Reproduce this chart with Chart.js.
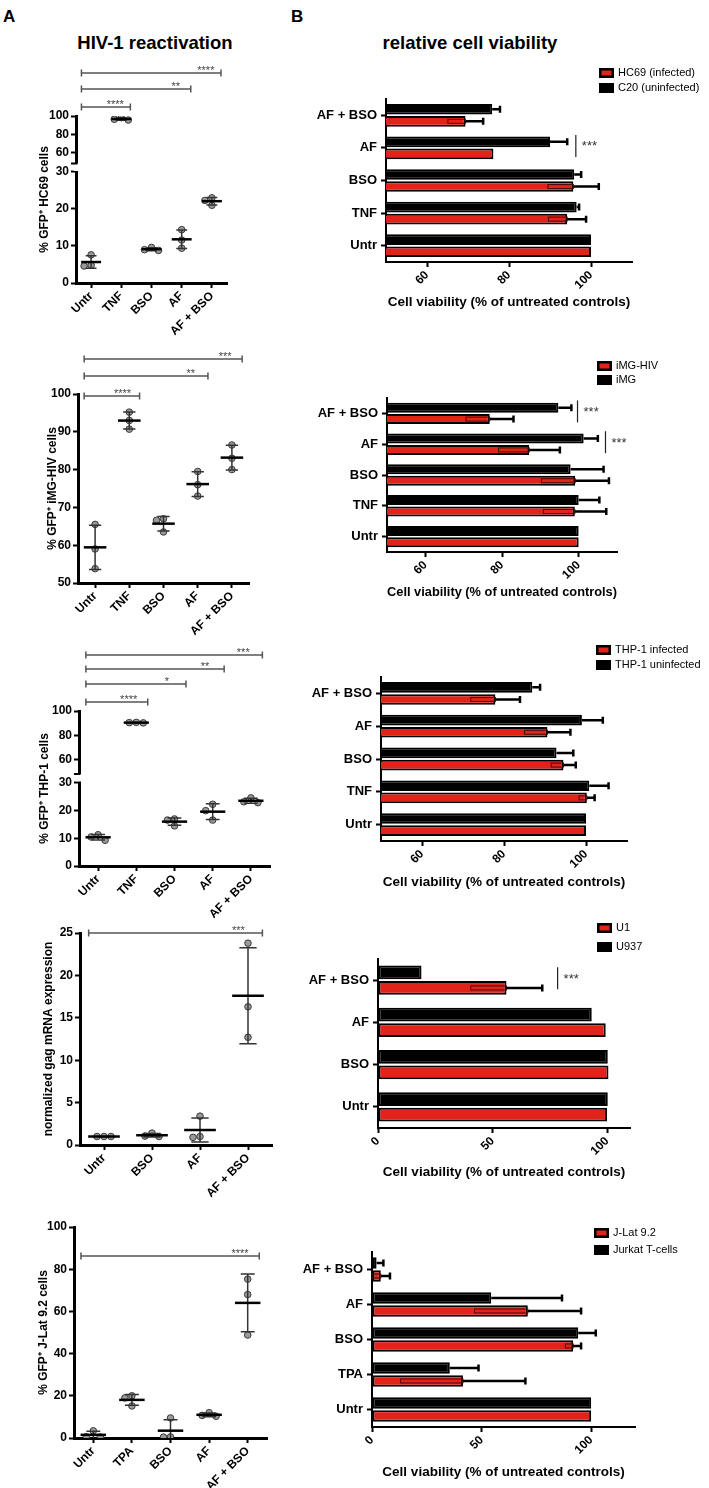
<!DOCTYPE html>
<html>
<head>
<meta charset="utf-8">
<title>HIV-1 reactivation and relative cell viability</title>
<script src="https://cdn.jsdelivr.net/npm/chart.js@4.4.1/dist/chart.umd.min.js"></script>
<style>
  html, body { margin: 0; padding: 0; background: #fff; }
  body { position: relative; width: 709px; height: 1488px; overflow: hidden; font-family: "Liberation Sans", Arial, Helvetica, sans-serif; }
  canvas { position: absolute; }
  .head { position: absolute; font-weight: bold; line-height: 1; white-space: nowrap; }
</style>
</head>
<body>
<div class="head" style="left:3px; top:8px; font-size:17px;">A</div>
<div class="head" style="left:291px; top:8px; font-size:17px;">B</div>
<div class="head" style="left:55px; width:200px; text-align:center; top:34px; font-size:18.5px;">HIV-1 reactivation</div>
<div class="head" style="left:370px; width:200px; text-align:center; top:34px; font-size:18.5px;">relative cell viability</div>
<script>
Chart.defaults.font.family = '"Liberation Sans", Arial, Helvetica, sans-serif';
Chart.defaults.color = "#000";

const RED = "#e2231a";
const BOLD12 = { size: 12, weight: "bold" };

// ============ A: HIV-1 reactivation (three replicates per group) ============
// HC69
const hc69Groups = ["Untr", "TNF", "BSO", "AF", "AF + BSO"];
const hc69Gfp = [[7.6, 4.8, 4.6], [98.2, 96.5, 95.6], [9.6, 9.0, 8.8], [14.4, 11.6, 9.4], [23.0, 22.3, 21.0]];
const hc69Stars = [["TNF", "****"], ["AF", "**"], ["AF + BSO", "****"]];
const hc69TicksHigh = [60, 80, 100];
const hc69TicksLow = [0, 10, 20, 30];

// iMG-HIV
const imgGroups = ["Untr", "TNF", "BSO", "AF", "AF + BSO"];
const imgGfp = [[65.5, 59.0, 53.8], [95.2, 93.0, 90.7], [67.0, 66.6, 63.5], [79.5, 76.0, 73.0], [86.5, 83.0, 80.0]];
const imgStars = [["TNF", "****"], ["AF", "**"], ["AF + BSO", "***"]];
const imgTicks = [50, 60, 70, 80, 90, 100];

// THP-1
const thpGroups = ["Untr", "TNF", "BSO", "AF", "AF + BSO"];
const thpGfp = [[11.3, 10.5, 9.3], [90.7, 90.5, 90.3], [17.0, 16.6, 14.5], [22.3, 20.0, 16.6], [24.6, 23.2, 22.9]];
const thpStars = [["TNF", "****"], ["BSO", "*"], ["AF", "**"], ["AF + BSO", "***"]];
const thpTicksHigh = [60, 80, 100];
const thpTicksLow = [0, 10, 20, 30];

// U1 gag mRNA
const u1Groups = ["Untr", "BSO", "AF", "AF + BSO"];
const u1Gag = [[1.0, 1.0, 1.0], [1.4, 1.05, 1.0], [3.4, 1.0, 0.9], [23.8, 16.3, 12.7]];
const u1Stars = [["AF + BSO", "***"]];
const u1Ticks = [0, 5, 10, 15, 20, 25];

// J-Lat 9.2
const jlatGroups = ["Untr", "TPA", "BSO", "AF", "AF + BSO"];
const jlatGfp = [[3.4, 0.6, 0.5], [20.0, 19.0, 15.2], [9.5, 0.5, 0.4], [12.0, 10.7, 10.3], [75.3, 68.0, 48.8]];
const jlatStars = [["AF + BSO", "****"]];
const jlatTicks = [0, 20, 40, 60, 80, 100];

// ============ B: relative cell viability (mean, SD) ============
const hc69ViaGroups = ["AF + BSO", "AF", "BSO", "TNF", "Untr"];
const hc69Infected = [69.4, 76.2, 95.7, 94.2, 100];
const hc69InfectedSd = [4.3, 0, 6.2, 4.6, 0];
const c20Uninfected = [75.9, 90.0, 95.9, 96.5, 100];
const c20UninfectedSd = [1.9, 4.2, 1.7, 0.6, 0];
const hc69ViaSig = [["AF", 96.3, "***"]];
const hc69ViaTicks = [60, 80, 100];

const imgViaGroups = ["AF + BSO", "AF", "BSO", "TNF", "Untr"];
const imgHivViability = [76.8, 87.1, 99.1, 99.0, 100];
const imgHivViabilitySd = [6.2, 8.0, 8.8, 8.2, 0];
const imgViability = [94.7, 101.3, 97.9, 100.0, 100];
const imgViabilitySd = [3.4, 3.7, 8.6, 5.4, 0];
const imgViaSig = [["AF + BSO", 99.7, "***"], ["AF", 107, "***"]];
const imgViaTicks = [60, 80, 100];

const thpViaGroups = ["AF + BSO", "AF", "BSO", "TNF", "Untr"];
const thpInfected = [77.9, 90.6, 94.5, 100.2, 100];
const thpInfectedSd = [6.0, 5.6, 3.0, 1.9, 0];
const thpUninfected = [86.9, 99.0, 92.8, 100.8, 100];
const thpUninfectedSd = [1.9, 5.1, 4.1, 4.7, 0];
const thpViaTicks = [60, 80, 100];

const u1ViaGroups = ["AF + BSO", "AF", "BSO", "Untr"];
const u1Viability = [56.1, 99.4, 100.6, 100.0];
const u1ViabilitySd = [15.6, 0, 0, 0];
const u937Viability = [19.0, 93.3, 100.3, 100.3];
const u937ViabilitySd = [0, 0, 0, 0];
const u1ViaSig = [["AF + BSO", 78.4, "***"]];
const u1ViaTicks = [0, 50, 100];

const jlatViaGroups = ["AF + BSO", "AF", "BSO", "TPA", "Untr"];
const jlatViability = [4.0, 71.1, 91.8, 41.5, 100];
const jlatViabilitySd = [4.2, 24.3, 3.6, 28.5, 0];
const jurkatViability = [2.1, 54.4, 94.1, 35.5, 100];
const jurkatViabilitySd = [3.1, 32.3, 8.0, 13.1, 0];
const jlatViaTicks = [0, 50, 100];

// ---------------------------------------------------------------------------

function addCanvas(box) {
  const canvas = document.createElement("canvas");
  canvas.width = box.width;
  canvas.height = box.height;
  canvas.style.left = box.left + "px";
  canvas.style.top = box.top + "px";
  document.body.appendChild(canvas);
  return canvas;
}

function meanSd(vals) {
  const m = vals.reduce((a, b) => a + b, 0) / vals.length;
  const v = vals.reduce((a, b) => a + (b - m) * (b - m), 0) / (vals.length - 1);
  return [m, Math.sqrt(v)];
}

const tickGrid = { drawOnChartArea: false, tickLength: 5, tickWidth: 2, tickColor: "#000" };

// ========================================= //
// Dot plot with mean +/- SD (column A)      //
// ========================================= //
function makeDotPanel(p) {
  const canvas = addCanvas(p.box);
  const area = p.area;
  const n = p.groups.length;
  const catPx = (area.r - area.l) / n;
  const plotH = area.b - area.t;

  // one segment for a plain axis, two for a broken one (upper first)
  const segs = p.broken
    ? [{ id: "yHigh", ...p.broken.high }, { id: "yLow", ...p.broken.low }]
    : [{ id: "y", ...p.axis, weight: 1 }];
  const wSum = segs.reduce((a, s) => a + s.weight, 0);
  segs.forEach((s) => {
    s.perUnit = (plotH * s.weight) / wSum / (s.max - s.min);
  });
  const segFor = (v) => (segs.length === 1 || v >= p.broken.split ? segs[0] : segs[1]);

  // points side by side when they would overlap
  const points = segs.map(() => []);
  p.values.forEach((vals, i) => {
    const placed = [];
    vals.forEach((v) => {
      const s = segFor(v);
      const dx =
        [0, -7, 7, -14, 14].find(
          (c) => !placed.some((q) => q.s === s && Math.hypot(q.dx - c, (q.v - v) * s.perUnit) < 6.6)
        ) ?? 0;
      placed.push({ s, dx, v });
      points[segs.indexOf(s)].push({ x: i + dx / catPx, y: v });
    });
  });

  const scales = {
    x: {
      type: "linear",
      min: -0.5,
      max: n - 0.5,
      afterBuildTicks: (sc) => {
        sc.ticks = p.groups.map((g, i) => ({ value: i }));
      },
      afterFit: (sc) => {
        sc.height = p.box.top + p.box.height - area.b;
      },
      ticks: {
        autoSkip: false,
        minRotation: 45,
        maxRotation: 45,
        font: BOLD12,
        padding: 1,
        callback: (v, i) => p.groups[i],
      },
      grid: tickGrid,
      border: { color: "#000", width: 3 },
    },
  };
  segs.forEach((s, k) => {
    scales[s.id] = {
      type: "linear",
      position: "left",
      min: s.min,
      max: s.max,
      afterBuildTicks: (sc) => {
        sc.ticks = s.ticks.map((v) => ({ value: v }));
      },
      afterFit: (sc) => {
        sc.width = area.l - p.box.left;
      },
      ticks: { font: BOLD12, padding: 2 },
      grid: tickGrid,
      border: { color: "#000", width: 3 },
    };
    if (p.broken) {
      Object.assign(scales[s.id], { stack: "gfp", stackWeight: s.weight, weight: segs.length - k });
    }
  });

  const deco = {
    id: "dotDeco",
    afterDatasetsDraw(chart) {
      const { ctx, chartArea } = chart;
      const xs = chart.scales.x;
      ctx.save();
      p.values.forEach((vals, i) => {
        const [m, sd] = meanSd(vals);
        const ys = chart.scales[segFor(m).id];
        const x = xs.getPixelForValue(i);
        const yHi = ys.getPixelForValue(m + sd);
        const yLoRaw = ys.getPixelForValue(m - sd);
        const yLo = Math.min(yLoRaw, chartArea.bottom);
        const cap = 0.18 * catPx;
        ctx.strokeStyle = "#333";
        ctx.lineWidth = 1.5;
        ctx.beginPath();
        ctx.moveTo(x, yHi);
        ctx.lineTo(x, yLo);
        ctx.moveTo(x - cap, yHi);
        ctx.lineTo(x + cap, yHi);
        if (yLoRaw <= chartArea.bottom) {
          ctx.moveTo(x - cap, yLo);
          ctx.lineTo(x + cap, yLo);
        }
        ctx.stroke();
        const yM = ys.getPixelForValue(m);
        ctx.strokeStyle = "#000";
        ctx.lineWidth = 2.5;
        ctx.beginPath();
        ctx.moveTo(x - 0.33 * catPx, yM);
        ctx.lineTo(x + 0.33 * catPx, yM);
        ctx.stroke();
      });
      ctx.restore();
    },
    afterDraw(chart) {
      const { ctx, chartArea } = chart;
      const xs = chart.scales.x;
      ctx.save();
      // comparisons against untreated
      p.stars.forEach(([target, label], k) => {
        const y = chartArea.top + p.bracketY[k];
        const x0 = xs.getPixelForValue(-0.32);
        const x1 = xs.getPixelForValue(p.groups.indexOf(target) + 0.3);
        ctx.strokeStyle = "#555";
        ctx.lineWidth = 1.5;
        ctx.beginPath();
        ctx.moveTo(x0, y);
        ctx.lineTo(x1, y);
        ctx.moveTo(x0, y - 3.5);
        ctx.lineTo(x0, y + 3.5);
        ctx.moveTo(x1, y - 3.5);
        ctx.lineTo(x1, y + 3.5);
        ctx.stroke();
        ctx.fillStyle = "#444";
        ctx.font = '11px "Liberation Sans", Arial, sans-serif';
        ctx.textAlign = "center";
        ctx.textBaseline = "alphabetic";
        ctx.fillText(label, x1 - 0.5 * catPx, y + 1);
      });
      // gap in a broken axis (only the axis line is cut)
      if (p.broken) {
        const j = chart.scales.yHigh.bottom;
        ctx.fillStyle = "#fff";
        ctx.fillRect(chartArea.left - 2.5, j - 4, 5, 7.5);
        ctx.strokeStyle = "#000";
        ctx.lineWidth = 2;
        ctx.beginPath();
        ctx.moveTo(chartArea.left - 5, j - 4);
        ctx.lineTo(chartArea.left + 1.5, j - 4);
        ctx.stroke();
      }
      // y axis title
      ctx.translate(p.titleX - p.box.left, (chartArea.top + chartArea.bottom) / 2);
      ctx.rotate(-Math.PI / 2);
      ctx.fillStyle = "#000";
      ctx.font = 'bold 12px "Liberation Sans", Arial, sans-serif';
      ctx.textAlign = "center";
      ctx.textBaseline = "middle";
      ctx.fillText(p.yTitle, 0, 0);
      ctx.restore();
    },
  };

  new Chart(canvas, {
    type: "scatter",
    data: {
      datasets: segs.map((s, k) => ({
        data: points[k],
        yAxisID: s.id,
        pointRadius: 3.3,
        pointBackgroundColor: "#9a9a9a",
        pointBorderColor: "#3a3a3a",
        pointBorderWidth: 1,
      })),
    },
    options: {
      responsive: false,
      maintainAspectRatio: false,
      animation: false,
      events: [],
      layout: {
        padding: { left: 0, top: area.t - p.box.top, right: p.box.left + p.box.width - area.r, bottom: 0 },
      },
      plugins: { legend: { display: false }, tooltip: { enabled: false } },
      scales,
    },
    plugins: [deco],
  });
}

// ========================================= //
// Horizontal viability bars (column B)      //
// ========================================= //
function makeViabilityPanel(p) {
  const canvas = addCanvas(p.box);
  const area = p.area;

  const extras = {
    id: "viabilityExtras",
    afterDatasetsDraw(chart) {
      const { ctx, chartArea } = chart;
      const xs = chart.scales.x;
      ctx.save();
      chart.data.datasets.forEach((ds, di) => {
        chart.getDatasetMeta(di).data.forEach((bar, i) => {
          const sd = ds.sd[i];
          if (!sd) return;
          const y = bar.y;
          const xEnd = xs.getPixelForValue(ds.data[i]);
          const xHi = xs.getPixelForValue(ds.data[i] + sd);
          const xLo = Math.max(xs.getPixelForValue(ds.data[i] - sd), chartArea.left);
          if (ds.innerError) {
            ctx.strokeStyle = "#4a0a06";
            ctx.lineWidth = 1;
            ctx.strokeRect(xLo, y - 2, xEnd - xLo, 4);
          }
          ctx.strokeStyle = "#000";
          ctx.lineWidth = 2.5;
          ctx.beginPath();
          ctx.moveTo(xEnd, y);
          ctx.lineTo(xHi, y);
          ctx.moveTo(xHi, y - 3.5);
          ctx.lineTo(xHi, y + 3.5);
          ctx.stroke();
        });
      });
      ctx.restore();
    },
    afterDraw(chart) {
      const { ctx } = chart;
      const xs = chart.scales.x;
      const ys = chart.scales.y;
      ctx.save();
      // legend, infected first
      const lx = p.legend.x - p.box.left;
      [1, 0].forEach((di, row) => {
        const ds = chart.data.datasets[di];
        const ly = p.legend.y[row] - p.box.top;
        ctx.fillStyle = "#000";
        ctx.fillRect(lx, ly - 5, 15, 10);
        ctx.fillStyle = ds.backgroundColor;
        ctx.fillRect(lx + 2.5, ly - 2.5, 10, 5);
        ctx.fillStyle = "#000";
        ctx.font = '11px "Liberation Sans", Arial, sans-serif';
        ctx.textAlign = "left";
        ctx.textBaseline = "middle";
        ctx.fillText(ds.label, lx + 19, ly);
      });
      // infected vs uninfected
      (p.sig || []).forEach(([group, at, label]) => {
        const x = xs.getPixelForValue(at);
        const y = ys.getPixelForValue(p.groups.indexOf(group));
        ctx.strokeStyle = "#222";
        ctx.lineWidth = 1.2;
        ctx.beginPath();
        ctx.moveTo(x, y - 13);
        ctx.lineTo(x, y + 9);
        ctx.stroke();
        ctx.fillStyle = "#333";
        ctx.font = '13px "Liberation Sans", Arial, sans-serif';
        ctx.textAlign = "left";
        ctx.textBaseline = "middle";
        ctx.fillText(label, x + 6, y - 1);
      });
      ctx.restore();
    },
  };

  new Chart(canvas, {
    type: "bar",
    data: {
      labels: p.groups,
      datasets: [
        { label: p.names[1], data: p.uninfected, sd: p.uninfectedSd, backgroundColor: "#000" },
        { label: p.names[0], data: p.infected, sd: p.infectedSd, backgroundColor: RED, innerError: true },
      ],
    },
    options: {
      indexAxis: "y",
      responsive: false,
      maintainAspectRatio: false,
      animation: false,
      events: [],
      layout: {
        padding: { left: 0, top: area.t - p.box.top, right: p.box.left + p.box.width - area.r, bottom: 0 },
      },
      datasets: {
        bar: {
          borderColor: "#000",
          borderWidth: 2,
          borderSkipped: false,
          categoryPercentage: 0.74,
          barPercentage: 0.88,
        },
      },
      plugins: { legend: { display: false }, tooltip: { enabled: false } },
      scales: {
        x: {
          type: "linear",
          min: p.min,
          max: p.max,
          afterBuildTicks: (sc) => {
            sc.ticks = p.ticks.map((v) => ({ value: v }));
          },
          afterFit: (sc) => {
            sc.height = p.box.top + p.box.height - area.b;
          },
          ticks: { minRotation: 45, maxRotation: 45, font: BOLD12, padding: 1 },
          grid: tickGrid,
          border: { color: "#000", width: 2 },
          title: {
            display: true,
            text: "Cell viability (% of untreated controls)",
            font: { size: 13.5, weight: "bold" },
            padding: { top: 0, bottom: 2 },
          },
        },
        y: {
          type: "category",
          afterFit: (sc) => {
            sc.width = area.l - p.box.left;
          },
          ticks: { font: { size: 13, weight: "bold" }, padding: 4 },
          grid: { ...tickGrid, offset: false },
          border: { color: "#000", width: 2 },
        },
      },
    },
    plugins: [extras],
  });
}

// ---------------- column A ----------------
makeDotPanel({
  box: { left: 0, top: 55, width: 280, height: 290 },
  area: { l: 76, t: 116, r: 227, b: 283 },
  groups: hc69Groups,
  values: hc69Gfp,
  stars: hc69Stars,
  bracketY: [-9, -27, -43],
  broken: {
    split: 40,
    high: { min: 44.3, max: 100, ticks: hc69TicksHigh, weight: 51.5 },
    low: { min: 0, max: 31.2, ticks: hc69TicksLow, weight: 115.5 },
  },
  yTitle: "% GFP⁺ HC69 cells",
  titleX: 45,
});

makeDotPanel({
  box: { left: 0, top: 340, width: 280, height: 300 },
  area: { l: 78, t: 394, r: 249, b: 583 },
  groups: imgGroups,
  values: imgGfp,
  stars: imgStars,
  bracketY: [2, -18, -35],
  axis: { min: 50, max: 100, ticks: imgTicks },
  yTitle: "% GFP⁺ iMG-HIV cells",
  titleX: 53,
});

makeDotPanel({
  box: { left: 0, top: 640, width: 280, height: 290 },
  area: { l: 79, t: 711, r: 270, b: 866 },
  groups: thpGroups,
  values: thpGfp,
  stars: thpStars,
  bracketY: [-9, -27, -42, -56],
  broken: {
    split: 40,
    high: { min: 45.3, max: 100, ticks: thpTicksHigh, weight: 67 },
    low: { min: 0, max: 31.8, ticks: thpTicksLow, weight: 88 },
  },
  yTitle: "% GFP⁺ THP-1 cells",
  titleX: 45,
});

makeDotPanel({
  box: { left: 0, top: 915, width: 280, height: 300 },
  area: { l: 80, t: 933, r: 272, b: 1145 },
  groups: u1Groups,
  values: u1Gag,
  stars: u1Stars,
  bracketY: [0],
  axis: { min: 0, max: 25, ticks: u1Ticks },
  yTitle: "normalized gag mRNA expression",
  titleX: 49,
});

makeDotPanel({
  box: { left: 0, top: 1215, width: 280, height: 273 },
  area: { l: 74, t: 1227, r: 267, b: 1438 },
  groups: jlatGroups,
  values: jlatGfp,
  stars: jlatStars,
  bracketY: [29],
  axis: { min: 0, max: 100, ticks: jlatTicks },
  yTitle: "% GFP⁺ J-Lat 9.2 cells",
  titleX: 44,
});

// ---------------- column B ----------------
makeViabilityPanel({
  box: { left: 280, top: 55, width: 429, height: 257 },
  area: { l: 386, t: 99, r: 632, b: 262 },
  groups: hc69ViaGroups,
  names: ["HC69 (infected)", "C20 (uninfected)"],
  infected: hc69Infected,
  infectedSd: hc69InfectedSd,
  uninfected: c20Uninfected,
  uninfectedSd: c20UninfectedSd,
  sig: hc69ViaSig,
  min: 50,
  max: 110,
  ticks: hc69ViaTicks,
  legend: { x: 599, y: [73, 88] },
});

makeViabilityPanel({
  box: { left: 280, top: 345, width: 429, height: 257 },
  area: { l: 387, t: 398, r: 617, b: 552 },
  groups: imgViaGroups,
  names: ["iMG-HIV", "iMG"],
  infected: imgHivViability,
  infectedSd: imgHivViabilitySd,
  uninfected: imgViability,
  uninfectedSd: imgViabilitySd,
  sig: imgViaSig,
  min: 50,
  max: 110,
  ticks: imgViaTicks,
  legend: { x: 597, y: [366, 380] },
});

makeViabilityPanel({
  box: { left: 280, top: 630, width: 429, height: 262 },
  area: { l: 381, t: 677, r: 627, b: 841 },
  groups: thpViaGroups,
  names: ["THP-1 infected", "THP-1 uninfected"],
  infected: thpInfected,
  infectedSd: thpInfectedSd,
  uninfected: thpUninfected,
  uninfectedSd: thpUninfectedSd,
  min: 50,
  max: 110,
  ticks: thpViaTicks,
  legend: { x: 596, y: [650, 665] },
});

makeViabilityPanel({
  box: { left: 280, top: 905, width: 429, height: 277 },
  area: { l: 378, t: 959, r: 630, b: 1128 },
  groups: u1ViaGroups,
  names: ["U1", "U937"],
  infected: u1Viability,
  infectedSd: u1ViabilitySd,
  uninfected: u937Viability,
  uninfectedSd: u937ViabilitySd,
  sig: u1ViaSig,
  min: 0,
  max: 110,
  ticks: u1ViaTicks,
  legend: { x: 597, y: [928, 947] },
});

makeViabilityPanel({
  box: { left: 280, top: 1200, width: 429, height: 282 },
  area: { l: 372, t: 1252, r: 635, b: 1427 },
  groups: jlatViaGroups,
  names: ["J-Lat 9.2", "Jurkat T-cells"],
  infected: jlatViability,
  infectedSd: jlatViabilitySd,
  uninfected: jurkatViability,
  uninfectedSd: jurkatViabilitySd,
  min: 0,
  max: 120,
  ticks: jlatViaTicks,
  legend: { x: 594, y: [1233, 1250] },
});
</script>
</body>
</html>
